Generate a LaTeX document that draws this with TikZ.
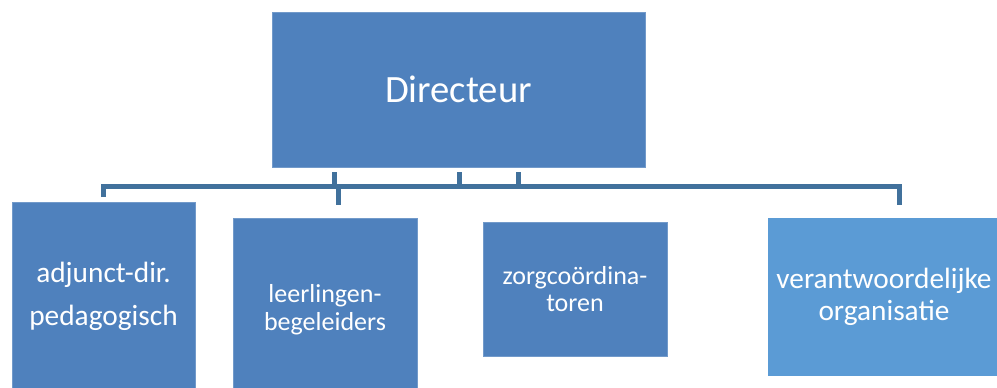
\documentclass[tikz,border=0pt]{standalone}
\usepackage{fontspec}
\setmainfont{Carlito}
\definecolor{boxblue}{HTML}{4F81BD}
\definecolor{lightblue}{HTML}{5B9BD5}
\definecolor{lineblue}{HTML}{41719C}
\tikzset{
  orgbox/.style={fill=boxblue, draw=boxblue!80!white, line width=0.6pt, text=white, align=center, inner sep=0pt},
  conn/.style={draw=lineblue, line width=3.75pt}
}
\begin{document}
\begin{tikzpicture}[x=0.75pt, y=-0.75pt]
  \useasboundingbox (0,0) rectangle (997,387);
  \clip (0,0) rectangle (997,387);

  \node [orgbox, minimum width=279.75pt, minimum height=116.25pt, font=\fontsize{29}{34}\selectfont] (dir) at (458.5,89.5) {Directeur};

  \node [orgbox, minimum width=137.25pt, minimum height=141pt, font=\fontsize{22}{32}\selectfont] (adj) at (103.5,296) {adjunct-dir.\\pedagogisch};
  \node [orgbox, minimum width=138pt, minimum height=138pt, font=\fontsize{19.5}{21}\selectfont] (llb) at (325,310) {leerlingen-\\begeleiders};
  \node [orgbox, minimum width=138pt, minimum height=100.5pt, font=\fontsize{19.5}{20.5}\selectfont] (zorg) at (575,289) {zorgcoördina-\\toren};
  \node [orgbox, fill=lightblue, draw=lightblue, minimum width=174pt, minimum height=117.75pt, font=\fontsize{22}{24}\selectfont] (org) at (884,296.5) {verantwoordelijke\\organisatie};

  % connectors
  \coordinate (top) at (0,172);
  \coordinate (bar) at (0,186.5);
  \coordinate (cl) at (103,197);
  \coordinate (cr) at (899,205);
  \coordinate (ct) at (334,172);
  \coordinate (cb) at (338,205);
  \coordinate (ul) at (459,172);
  \coordinate (ur) at (518,172);

  \draw [conn] (cl) -- (cl |- bar) -- (cr |- bar) -- (cr);
  \draw [conn] (ct) -- (ct |- bar);
  \draw [conn] (cb |- bar) -- (cb);
  \draw [conn] (ul) -- (ul |- bar) -- (ur |- bar) -- (ur);
\end{tikzpicture}
\end{document}
